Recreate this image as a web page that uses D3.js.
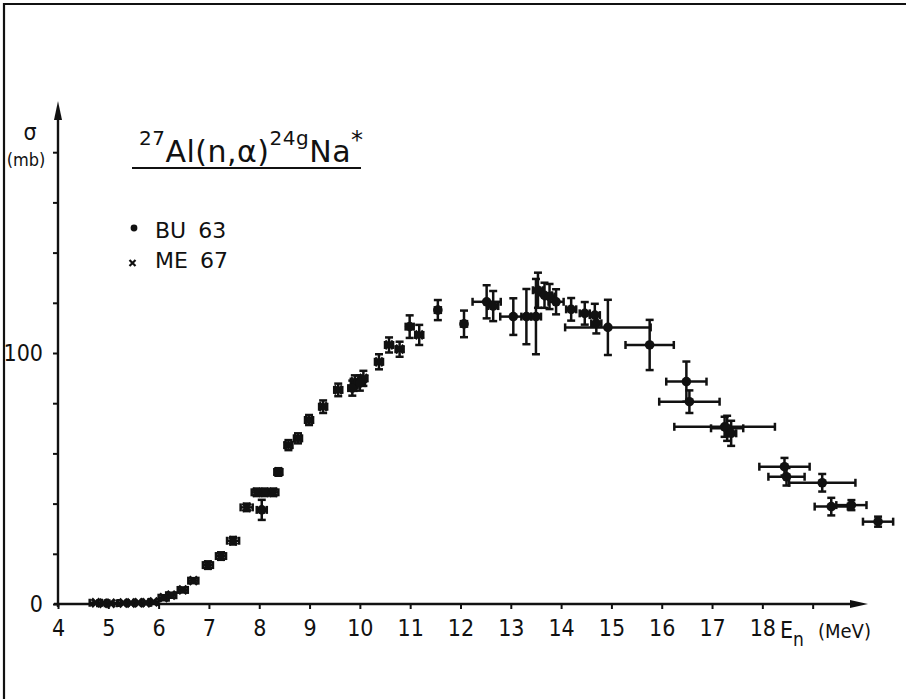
<!DOCTYPE html>
<html>
<head>
<meta charset="utf-8">
<script src="https://cdn.jsdelivr.net/npm/d3@7"></script>
<style>
  html, body { margin: 0; padding: 0; background: #fff; }
  svg text { font-family: "DejaVu Sans Condensed", "Liberation Sans Narrow", sans-serif; fill: #111; }
  svg text.wide { font-family: "DejaVu Sans", "Liberation Sans", sans-serif; }
</style>
</head>
<body>
<svg id="chart" width="906" height="699"></svg>
<script>
// ---- data ----
// ME 67 (x): energy (MeV), cross section (mb), energy half-width, cross-section error
const meE   = [4.75, 4.9, 5.05, 5.3, 5.45, 5.6, 5.75, 5.9, 6.1, 6.25, 6.48, 6.69, 6.98, 7.24, 7.48, 7.75, 7.95, 8.11, 8.28, 8.38, 8.58, 8.77, 8.99, 9.27, 9.57, 9.9, 10.07, 10.38, 10.58, 10.79, 11.18];
const meS   = [0.5, 0.3, 0.3, 0.4, 0.4, 0.5, 0.5, 0.8, 2.5, 3.5, 5.6, 9.3, 15.5, 19.1, 25.2, 38.5, 44.5, 44.5, 44.5, 52.6, 63.3, 66, 73.3, 78.6, 85.3, 88.6, 89.9, 96.5, 103.2, 101.5, 107.2];
const meDE  = [0.12, 0.12, 0.12, 0.1, 0.1, 0.1, 0.1, 0.1, 0.1, 0.1, 0.1, 0.1, 0.1, 0.1, 0.12, 0.12, 0.1, 0.1, 0.1, 0.08, 0.08, 0.08, 0.08, 0.08, 0.08, 0.08, 0.08, 0.08, 0.08, 0.08, 0.08];
const meDS  = [0, 0, 0, 0, 0, 0, 0, 0, 1, 1, 1, 1, 1.5, 1.5, 1.5, 1.5, 1.5, 1.5, 1.5, 1.5, 2, 2, 2, 2.5, 2.5, 2.5, 3, 3, 3, 3, 4];

// BU 63 (dot)
const buE   = [8.05, 9.85, 10.0, 10.99, 11.55, 12.07, 12.52, 12.65, 13.05, 13.31, 13.5, 13.54, 13.67, 13.77, 13.9, 14.2, 14.47, 14.67, 14.7, 14.93, 15.76, 16.49, 16.55, 17.25, 17.3, 17.38, 18.44, 18.48, 19.19, 19.37, 19.77, 20.3];
const buS   = [37.5, 86, 88, 110.5, 117.1, 111.6, 120.4, 118.7, 114.5, 114.5, 114.5, 125, 123, 122.5, 120.4, 117.4, 115.8, 115.1, 111.8, 110.2, 103.2, 88.6, 80.6, 70.6, 70, 68, 54.7, 50.7, 48.3, 38.8, 39.4, 32.8];
const buDE  = [0.1, 0.08, 0.1, 0.08, 0.06, 0.06, 0.28, 0.1, 0.26, 0.1, 0.1, 0.1, 0.15, 0.1, 0.15, 0.1, 0.1, 0.1, 0.1, 0.85, 0.48, 0.4, 0.6, 1.0, 0.32, 0.1, 0.5, 0.36, 0.66, 0.33, 0.3, 0.3];
const buDS  = [4, 3, 3, 4.5, 4, 5.3, 6.6, 6, 7.3, 11, 15, 7, 5, 5, 5, 4.5, 4.5, 4.5, 4, 11, 10, 8, 4.5, 4, 5, 5, 3.5, 3.5, 3.5, 3.5, 2, 2];

// axis ticks
const xTickValues = [4, 5, 6, 7, 8, 9, 10, 11, 12, 13, 14, 15, 16, 17, 18, 19];
const xTickLabels = ["4", "5", "6", "7", "8", "9", "10", "11", "12", "13", "14", "15", "16", "17", "18", ""];
const yTickValues = [0, 20, 40, 60, 80, 100, 120, 140, 160, 180];
const yTickLabels = ["0", "", "", "", "", "100", "", "", "", ""];
const legendNames = ["BU", "63", "ME", "67"];

// ---- drawing ----
const svg = d3.select("#chart");
const x = d3.scaleLinear().domain([4, 20.1]).range([58, 868]);
const y = d3.scaleLinear().domain([0, 200]).range([604, 102]);

// frame (left and top edges)
svg.append("path").attr("d", "M4,699 L4,4 L906,4")
  .attr("fill", "none").attr("stroke", "#111").attr("stroke-width", 2.2);

// x axis
const xAxis = d3.axisBottom(x).tickValues(xTickValues)
  .tickFormat((d, i) => xTickLabels[i]).tickSize(5).tickPadding(11);
const gx = svg.append("g").attr("transform", `translate(0,${y(0)})`).call(xAxis);
gx.select(".domain").remove();
gx.selectAll(".tick line").attr("stroke", "#111").attr("stroke-width", 2);
gx.selectAll(".tick text").attr("font-size", 23).attr("fill", "#111");
svg.append("line").attr("x1", x(4) - 4).attr("x2", x(20.1) - 10)
  .attr("y1", y(0)).attr("y2", y(0)).attr("stroke", "#111").attr("stroke-width", 2.4);
svg.append("path")
  .attr("d", `M${x(20.1)},${y(0)} L${x(20.1) - 18},${y(0) - 4} L${x(20.1) - 18},${y(0) + 4} Z`)
  .attr("fill", "#111");

// y axis
const yAxis = d3.axisLeft(y).tickValues(yTickValues)
  .tickFormat((d, i) => yTickLabels[i]).tickSize(5).tickPadding(10);
const gy = svg.append("g").attr("transform", `translate(${x(4)},0)`).call(yAxis);
gy.select(".domain").remove();
gy.selectAll(".tick line").attr("stroke", "#111").attr("stroke-width", 2);
gy.selectAll(".tick text").attr("font-size", 23).attr("fill", "#111");
svg.append("line").attr("x1", x(4)).attr("x2", x(4))
  .attr("y1", y(0) + 3).attr("y2", y(200) + 14).attr("stroke", "#111").attr("stroke-width", 2.4);
svg.append("path")
  .attr("d", `M${x(4)},${y(200) - 1} L${x(4) - 4},${y(200) + 18} L${x(4) + 4},${y(200) + 18} Z`)
  .attr("fill", "#111");

// axis titles
svg.append("text").attr("x", 30).attr("y", 140).attr("text-anchor", "middle")
  .attr("font-size", 23).text("σ");
svg.append("text").attr("x", 26).attr("y", 166).attr("text-anchor", "middle")
  .attr("font-size", 18).text("(mb)");
const xl = svg.append("text").attr("x", 780).attr("y", y(0) + 34).attr("font-size", 23);
xl.append("tspan").text("E");
xl.append("tspan").attr("dy", 8).attr("font-size", 19).text("n");
xl.append("tspan").attr("dy", -8).attr("x", 818).attr("font-size", 20).text("(MeV)");

// title
const t = svg.append("text").attr("class", "wide").attr("x", 139).attr("y", 162)
  .attr("font-size", 30).attr("letter-spacing", 0.5);
t.append("tspan").attr("font-size", 20).attr("dy", -17).text("27");
t.append("tspan").attr("dy", 17).text("Al(n,α)");
t.append("tspan").attr("font-size", 20).attr("dy", -17).text("24g");
t.append("tspan").attr("dy", 17).text("Na");
t.append("tspan").attr("font-size", 24).attr("dy", -14).text("*");
svg.append("line").attr("x1", 132).attr("x2", 361).attr("y1", 168).attr("y2", 168)
  .attr("stroke", "#111").attr("stroke-width", 2);

// legend
svg.append("circle").attr("cx", 134).attr("cy", 228).attr("r", 3.4).attr("fill", "#111");
const l1 = svg.append("text").attr("class", "wide").attr("x", 155).attr("y", 238).attr("font-size", 22);
l1.append("tspan").text(legendNames[0]);
l1.append("tspan").attr("dx", 12).text(legendNames[1]);
svg.append("path").attr("d", "M129.5,260 l6,6 M135.5,260 l-6,6")
  .attr("stroke", "#111").attr("stroke-width", 2.2);
const l2 = svg.append("text").attr("class", "wide").attr("x", 155).attr("y", 268).attr("font-size", 22);
l2.append("tspan").text(legendNames[2]);
l2.append("tspan").attr("dx", 12).text(legendNames[3]);

// error bars + markers
function drawSeries(E, S, DE, DS, kind) {
  const data = E.map((e, i) => ({ e, s: S[i], de: DE[i], ds: DS[i] }));
  const g = svg.append("g").attr("stroke", "#111").attr("stroke-width", 2.5).attr("fill", "none");
  const cap = 4;
  data.forEach(d => {
    const cx = x(d.e), cy = y(d.s);
    if (d.de > 0) {
      const x1 = x(d.e - d.de), x2 = x(d.e + d.de);
      g.append("line").attr("x1", x1).attr("x2", x2).attr("y1", cy).attr("y2", cy);
      g.append("line").attr("x1", x1).attr("x2", x1).attr("y1", cy - cap).attr("y2", cy + cap);
      g.append("line").attr("x1", x2).attr("x2", x2).attr("y1", cy - cap).attr("y2", cy + cap);
    }
    if (d.ds > 0) {
      const y1 = y(d.s - d.ds), y2 = y(d.s + d.ds);
      g.append("line").attr("x1", cx).attr("x2", cx).attr("y1", y1).attr("y2", y2);
      g.append("line").attr("x1", cx - cap).attr("x2", cx + cap).attr("y1", y1).attr("y2", y1);
      g.append("line").attr("x1", cx - cap).attr("x2", cx + cap).attr("y1", y2).attr("y2", y2);
    }
    if (kind === "dot") {
      svg.append("circle").attr("cx", cx).attr("cy", cy).attr("r", 4.8).attr("fill", "#111");
    } else {
      svg.append("path").attr("d", `M${cx - 4},${cy - 4} L${cx + 4},${cy + 4} M${cx + 4},${cy - 4} L${cx - 4},${cy + 4}`)
        .attr("stroke", "#111").attr("stroke-width", 3.2);
    }
  });
}
drawSeries(meE, meS, meDE, meDS, "cross");
drawSeries(buE, buS, buDE, buDS, "dot");
</script>
</body>
</html>
